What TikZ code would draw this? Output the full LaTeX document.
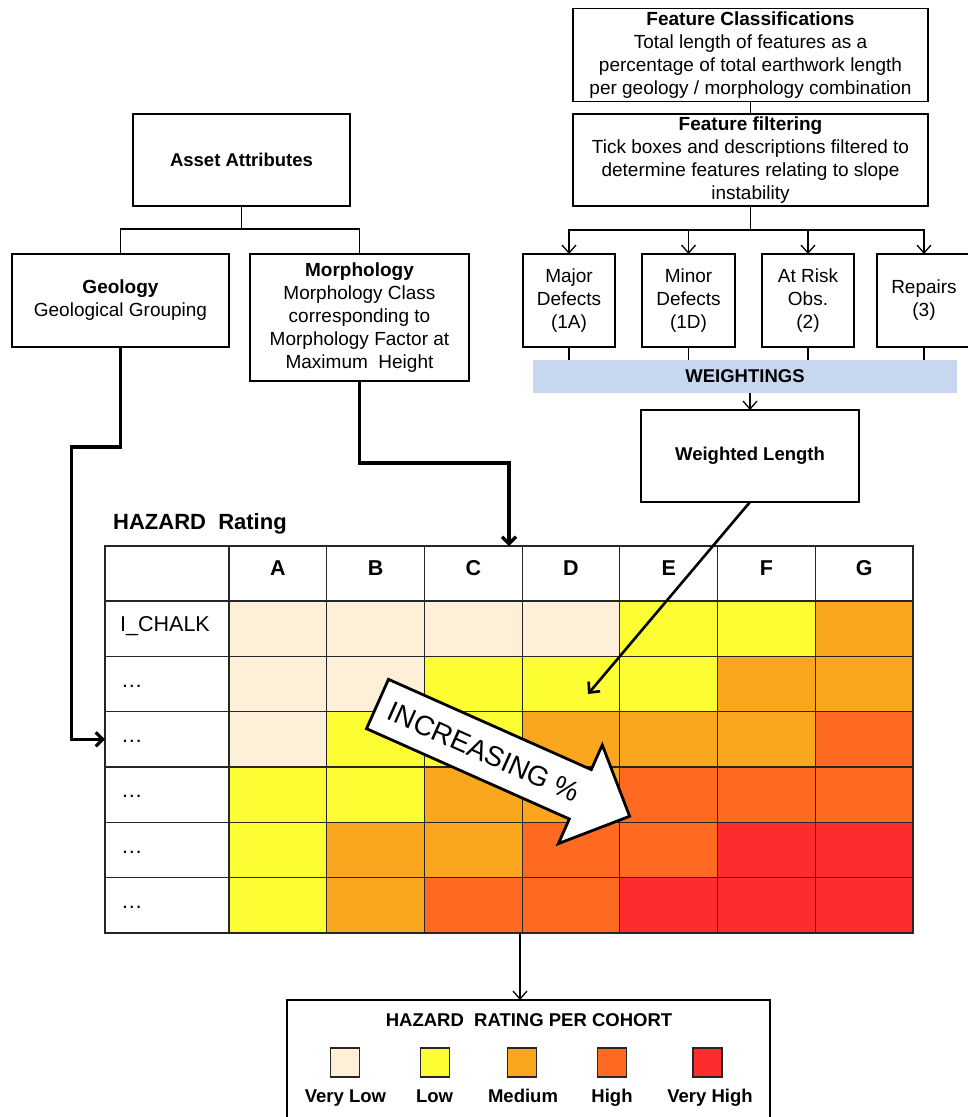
\documentclass[tikz,border=0pt]{standalone}
\usepackage{fontspec}
\setmainfont{Liberation Sans}
\usetikzlibrary{arrows.meta}
\definecolor{cVL}{HTML}{FEF0D8}
\definecolor{cL}{HTML}{FDFD33}
\definecolor{cM}{HTML}{FAA61E}
\definecolor{cH}{HTML}{FE6A22}
\definecolor{cVH}{HTML}{FE2C2C}
\definecolor{cBar}{HTML}{C6D7EF}
\begin{document}
\begin{tikzpicture}[x=1pt,y=-1pt,
  box/.style={draw=black, line width=1.4pt, align=center, inner sep=0pt, outer sep=0pt,
    font=\fontsize{19}{23}\selectfont},
  tree/.style={draw=black, line width=1.3pt},
  treearrow/.style={tree, -{Straight Barb[length=8pt,width=14pt]}},
  bigline/.style={draw=black, line width=3.2pt, -{Straight Barb[length=7pt,width=14pt]}},
  diagarrow/.style={draw=black, line width=2.6pt, -{Straight Barb[length=8pt,width=15pt]}},
  cell/.style={draw=black!85, line width=1.2pt, inner sep=0pt, outer sep=0pt},
  celltext/.style={inner sep=0pt, anchor=base, font=\fontsize{21.5}{24}\selectfont},
  legsq/.style={draw=black!85, line width=1.2pt, minimum width=29pt, minimum height=29pt, inner sep=0pt},
  leglab/.style={inner sep=0pt, anchor=base, font=\fontsize{18.5}{22}\selectfont\bfseries}
]
\useasboundingbox (0,0) rectangle (968,1117);

% ---------- right-hand tree ----------
\node[box, minimum width=355pt, minimum height=93pt] (fc) at (750.5,55)
  {\textbf{Feature Classifications}\\Total length of features as a\\percentage of total earthwork length\\per geology / morphology combination};
\node[box, minimum width=355pt, minimum height=92pt] (ff) at (750.5,160)
  {\textbf{Feature filtering}\\Tick boxes and descriptions filtered to\\determine features relating to slope\\instability};
\draw[tree] (fc.south) -- (ff.north);

\node[box, minimum width=92pt, minimum height=93pt] (b1) at (569,300.5) {Major\\Defects\\(1A)};
\node[box, minimum width=93pt, minimum height=93pt] (b2) at (688.5,300.5) {Minor\\Defects\\(1D)};
\node[box, minimum width=92pt, minimum height=93pt] (b3) at (808,300.5) {At Risk\\Obs.\\(2)};
\node[box, minimum width=94pt, minimum height=93pt] (b4) at (924,300.5) {Repairs\\(3)};

\draw[tree, line width=1.8pt] (ff.south) -- ++(0,24) coordinate (fj);
\draw[treearrow] (fj) -| (b1.north);
\draw[treearrow] (fj) -| (b2.north);
\draw[treearrow] (fj) -| (b3.north);
\draw[treearrow] (fj) -| (b4.north);

\node[fill=cBar, minimum width=424pt, minimum height=33pt, inner sep=0pt, outer sep=0pt,
  font=\fontsize{18.5}{22}\selectfont\bfseries] (wb) at (745,376.5) {WEIGHTINGS};
\foreach \b in {b1,b2,b3,b4} { \draw[tree] (\b.south) -- (\b.south |- wb.north); }

\node[box, minimum width=218pt, minimum height=92pt, font=\fontsize{18.5}{23}\selectfont\bfseries] (wl) at (750,456) {Weighted Length};
\draw[treearrow] (wb.south -| wl.north) -- (wl.north);

% ---------- left-hand tree ----------
\node[box, minimum width=217pt, minimum height=92pt, font=\fontsize{18.5}{23}\selectfont\bfseries] (aa) at (241.5,160) {Asset Attributes};
\node[box, minimum width=217pt, minimum height=93pt] (geo) at (120.5,300.5) {\textbf{Geology}\\Geological Grouping};
\node[box, minimum width=219pt, minimum height=127pt] (mor) at (359.5,317.5)
  {\textbf{Morphology}\\Morphology Class\\corresponding to\\Morphology Factor at\\Maximum\ \ Height};
\draw[tree] (aa.south) -- ++(0,23) -| (geo.north);
\draw[tree] (aa.south) -- ++(0,23) -| (mor.north);

% ---------- hazard grid ----------
\node[anchor=west, inner sep=0pt, font=\fontsize{22}{24}\selectfont\bfseries] (hr) at (113,523.5) {HAZARD\ \ Rating};

\node[cell, minimum width=124pt, minimum height=55pt] (h-0) at (167,573.5) {};
\foreach \l [count=\c] in {A,B,C,D,E,F,G} {
  \pgfmathsetmacro{\cx}{229+(\c-0.5)*97.714}
  \node[cell, minimum width=97.714pt, minimum height=55pt] (h-\c) at (\cx,573.5) {};
  \node[celltext, font=\fontsize{21.5}{24}\selectfont\bfseries] (ht-\c) at (\cx,575.5) {\l};
}
\foreach \row [count=\r] in {
  {cVL,cVL,cVL,cVL,cL,cL,cM},
  {cVL,cVL,cL,cL,cL,cM,cM},
  {cVL,cL,cL,cM,cM,cM,cH},
  {cL,cL,cM,cM,cH,cH,cH},
  {cL,cM,cM,cH,cH,cVH,cVH},
  {cL,cM,cH,cH,cVH,cVH,cVH}} {
  \pgfmathsetmacro{\cy}{601+(\r-0.5)*55.333}
  \node[cell, minimum width=124pt, minimum height=55.333pt] (lab-\r) at (167,\cy) {};
  \foreach \col [count=\c] in \row {
    \pgfmathsetmacro{\cx}{229+(\c-0.5)*97.714}
    \node[cell, fill=\col, minimum width=97.714pt, minimum height=55.333pt] (g-\r-\c) at (\cx,\cy) {};
  }
}
\foreach \r in {1,...,6} {
  \pgfmathsetmacro{\by}{601+(\r-0.5)*55.333+3}
  \ifnum\r=1
    \node[celltext, anchor=base west] (lt-\r) at (120,\by) {I\_CHALK};
  \else
    \node[celltext, anchor=base west] (lt-\r) at (121,\by) {…};
  \fi
}

% ---------- connectors into grid ----------
\coordinate (mtip) at (509,546);
\draw[bigline] (geo.south) -- ++(0,100) -- ++(-49,0) |- (lab-3.west);
\draw[bigline] (mor.south) -- ++(0,82) -| (mtip);
\coordinate (wtip) at (588,694);
\draw[diagarrow] (wl.south) -- (wtip);

% ---------- increasing arrow ----------
\begin{scope}[shift={(377.5,704)}, rotate=-24]
  \draw[fill=white, draw=black, line width=2.8pt, line join=miter]
    (0,-27) -- (222,-27) -- (222,-54) -- (276,0) -- (222,54) -- (222,27) -- (0,27) -- cycle;
\end{scope}
\node[rotate=-24, inner sep=0pt, font=\fontsize{28}{30}\selectfont] (inc) at (484,752) {INCREASING \%};

% ---------- legend ----------
\node[draw=black, line width=1.4pt, minimum width=483pt, minimum height=125pt, inner sep=0pt, outer sep=0pt] (leg) at (528.5,1062.5) {};
\coordinate (gb) at (520,933);
\draw[treearrow] (gb) -- (gb |- leg.north);
\node[leglab] (legt) at (529,1026) {HAZARD\ \ RATING PER COHORT};
\node[legsq, fill=cVL] (s1) at (345,1062.5) {};
\node[legsq, fill=cL] (s2) at (435,1062.5) {};
\node[legsq, fill=cM] (s3) at (522,1062.5) {};
\node[legsq, fill=cH] (s4) at (612,1062.5) {};
\node[legsq, fill=cVH] (s5) at (707.5,1062.5) {};
\node[leglab] (l1) at (345.5,1102) {Very Low};
\node[leglab] (l2) at (434.5,1102) {Low};
\node[leglab] (l3) at (523,1102) {Medium};
\node[leglab] (l4) at (612,1102) {High};
\node[leglab] (l5) at (710,1102) {Very High};
\end{tikzpicture}
\end{document}
